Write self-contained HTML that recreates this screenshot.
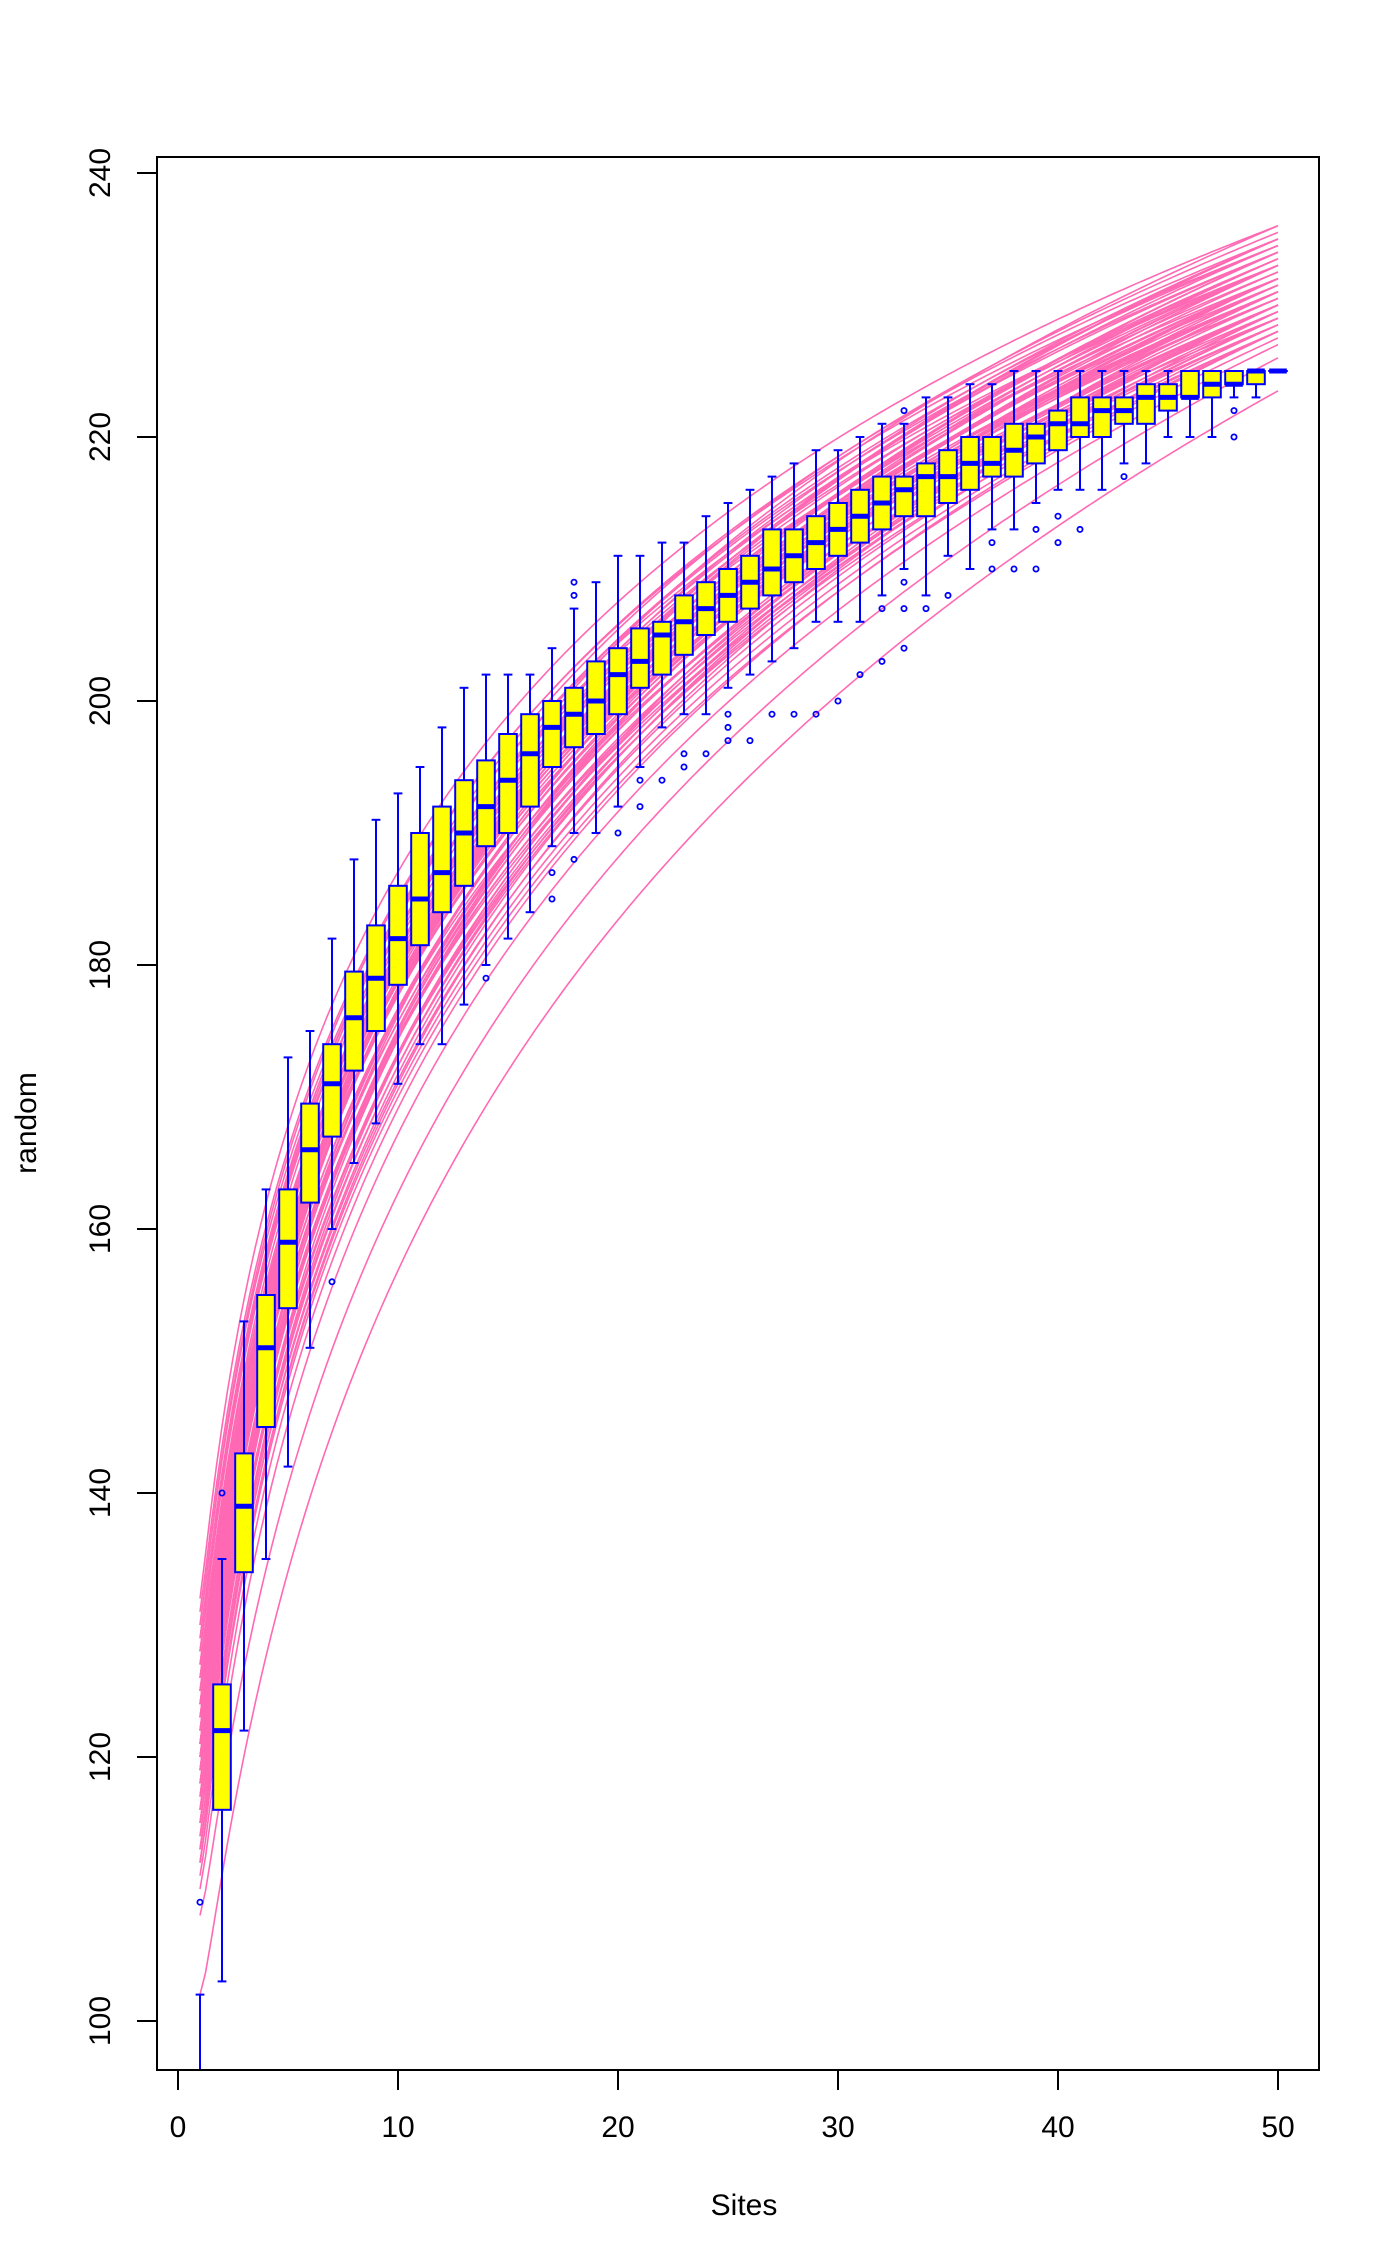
<!DOCTYPE html>
<html><head><meta charset="utf-8">
<style>
html,body{margin:0;padding:0;background:#fff;}
svg{display:block;font-family:"Liberation Sans",sans-serif;}
</style></head>
<body>
<svg id="chart" width="1400" height="2266" viewBox="0 0 1400 2266" xmlns="http://www.w3.org/2000/svg">
<defs><clipPath id="plotclip"><rect x="157" y="157" width="1162" height="1913"/></clipPath></defs>
<g id="curves" clip-path="url(#plotclip)"></g>
<g id="boxes" clip-path="url(#plotclip)"></g>
<rect x="157" y="157" width="1162" height="1913" fill="none" stroke="#000" stroke-width="2"/>
<g id="axes"></g>
<text x="744" y="2235" font-size="30" text-anchor="middle" dy="-20">Sites</text>
<text x="36" y="1123" font-size="30" text-anchor="middle" transform="rotate(-90 36 1123)">random</text>
</svg>
<script>
// Boxplot summaries per site (1..50)
const sites = [1,2,3,4,5,6,7,8,9,10,11,12,13,14,15,16,17,18,19,20,21,22,23,24,25,26,27,28,29,30,31,32,33,34,35,36,37,38,39,40,41,42,43,44,45,46,47,48,49,50];
const whiskLo = [80,103,122,135,142,151,160,165,168,171,174,174,177,180,182,184,189,190,190,192,195,198,199,199,201,202,203,204,206,206,206,208,210,208,211,210,213,213,215,216,216,216,218,218,220,220,220,223,223,225];
const q1 = [85,116,134,145,154,162,167,172,175,178.5,181.5,184,186,189,190,192,195,196.5,197.5,199,201,202,203.5,205,206,207,208,209,210,211,212,213,214,214,215,216,217,217,218,219,220,220,221,221,222,223,223,224,224,225];
const med = [88,122,139,151,159,166,171,176,179,182,185,187,190,192,194,196,198,199,200,202,203,205,206,207,208,209,210,211,212,213,214,215,216,217,217,218,218,219,220,221,221,222,222,223,223,223,224,224,225,225];
const q3 = [92,125.5,143,155,163,169.5,174,179.5,183,186,190,192,194,195.5,197.5,199,200,201,203,204,205.5,206,208,209,210,211,213,213,214,215,216,217,217,218,219,220,220,221,221,222,223,223,223,224,224,225,225,225,225,225];
const whiskHi = [102,135,153,163,173,175,182,188,191,193,195,198,201,202,202,202,204,207,209,211,211,212,212,214,215,216,217,218,219,219,220,221,221,223,223,224,224,225,225,225,225,225,225,225,225,225,225,225,225,225];
const outSite = [1,2,7,14,17,17,18,18,18,20,21,21,22,23,23,24,25,25,25,26,27,28,29,30,31,32,32,33,33,33,33,34,35,37,37,38,39,39,40,40,41,43,48,48];
const outVal = [109,140,156,179,187,185,208,209,188,190,194,192,194,196,195,196,199,198,197,197,199,199,199,200,202,207,203,222,209,207,204,207,208,212,210,210,213,210,214,212,213,217,222,220];
// Rarefaction curves: value at site 1, value at site 50, curvature exponent
const curveStart = [102,108,110,111,112,112,113,113,114,114,115,115,116,116,117,117,118,118,118,119,119,119,120,120,120,121,121,121,122,122,122,123,123,123,124,124,124,125,125,125,126,126,127,127,128,128,129,129,130,130,131,127,124,121,118,115,112,120,123,126,117,119,122,125,128,116,113,121,124,132];
const curveEnd = [223.5,226,227,228,229.5,227.5,230,228.5,231,229,232,230,228,231.5,233,229.5,230.5,232,228,231,233.5,229,230,232.5,234,231,228.5,233,230,232,235,229.5,231,233.5,230,232,234.5,231,233,235,230.5,232.5,234,231.5,233,235.5,232,234,233,235,234.5,229,230.5,231.5,228.5,229,228,233,232,231,230,234,232,233.5,234.5,232,230,235,236,236];
const curvePow = [1.5,1.45,1.35,1.32,1.3,1.3,1.3,1.29,1.29,1.28,1.28,1.28,1.27,1.27,1.27,1.27,1.26,1.26,1.26,1.26,1.25,1.25,1.25,1.25,1.25,1.25,1.25,1.25,1.25,1.25,1.25,1.25,1.25,1.25,1.25,1.25,1.25,1.25,1.25,1.25,1.24,1.24,1.24,1.24,1.23,1.23,1.23,1.23,1.22,1.22,1.22,1.25,1.25,1.25,1.26,1.27,1.29,1.25,1.25,1.24,1.26,1.25,1.25,1.24,1.23,1.27,1.28,1.25,1.24,1.2];
const xTicks = [0,10,20,30,40,50];
const yTicks = [100,120,140,160,180,200,220,240];

const NS = "http://www.w3.org/2000/svg";
const xs = v => 178 + 22 * v;
const ys = v => 2021 - 13.2 * (v - 100);
function mk(tag, attrs, parent){const e=document.createElementNS(NS,tag);for(const k in attrs)e.setAttribute(k,attrs[k]);parent.appendChild(e);return e;}

const gc = document.getElementById('curves');
for (let i = 0; i < curveStart.length; i++) {
  let d = '';
  for (let s = 1; s <= 50.0001; s += 0.25) {
    const f = Math.pow(Math.log(s) / Math.log(50), curvePow[i]);
    const v = curveStart[i] + (curveEnd[i] - curveStart[i]) * f;
    d += (d ? 'L' : 'M') + xs(s).toFixed(1) + ',' + ys(v).toFixed(1);
  }
  const p = mk('path', {d: d, fill: 'none', stroke: '#FF69B4', 'stroke-width': 1.6}, gc);
  
  
}

const gb = document.getElementById('boxes');
const hw = 8.8, cw = 4.4;
for (let i = 0; i < sites.length; i++) {
  const x = xs(sites[i]);
  const g = mk('g', {}, gb);
  
  
  mk('line', {x1:x, x2:x, y1:ys(whiskLo[i]), y2:ys(q1[i]), stroke:'#0000FF','stroke-width':2}, g);
  mk('line', {x1:x, x2:x, y1:ys(q3[i]), y2:ys(whiskHi[i]), stroke:'#0000FF','stroke-width':2}, g);
  mk('line', {x1:x-cw, x2:x+cw, y1:ys(whiskLo[i]), y2:ys(whiskLo[i]), stroke:'#0000FF','stroke-width':2}, g);
  mk('line', {x1:x-cw, x2:x+cw, y1:ys(whiskHi[i]), y2:ys(whiskHi[i]), stroke:'#0000FF','stroke-width':2}, g);
  mk('rect', {x:x-hw, y:ys(q3[i]), width:2*hw, height:Math.max(0.01, ys(q1[i]) - ys(q3[i])), fill:'#FFFF00', stroke:'#0000FF','stroke-width':2}, g);
  mk('line', {x1:x-hw, x2:x+hw, y1:ys(med[i]), y2:ys(med[i]), stroke:'#0000FF','stroke-width':5}, g);
}
for (let i = 0; i < outSite.length; i++) {
  const c = mk('circle', {cx:xs(outSite[i]), cy:ys(outVal[i]), r:2.6, fill:'none', stroke:'#0000FF','stroke-width':1.8}, gb);
  
  
}

const ga = document.getElementById('axes');
for (const t of xTicks) {
  const l = mk('line', {x1:xs(t), x2:xs(t), y1:2070, y2:2090, stroke:'#000','stroke-width':2}, ga);
  
  
  const tx = mk('text', {x:xs(t), y:2137, 'font-size':30, 'text-anchor':'middle'}, ga);
  tx.textContent = t;
  
  
}
for (const t of yTicks) {
  const l = mk('line', {x1:137, x2:157, y1:ys(t), y2:ys(t), stroke:'#000','stroke-width':2}, ga);
  
  
  const tx = mk('text', {x:110, y:ys(t), 'font-size':30, 'text-anchor':'middle', transform:'rotate(-90 110 ' + ys(t) + ')'}, ga);
  tx.textContent = t;
  
  
}
mk('line', {x1:xs(0), x2:xs(50), y1:2070, y2:2070, stroke:'#000','stroke-width':2}, ga);
</script>
</body></html>
